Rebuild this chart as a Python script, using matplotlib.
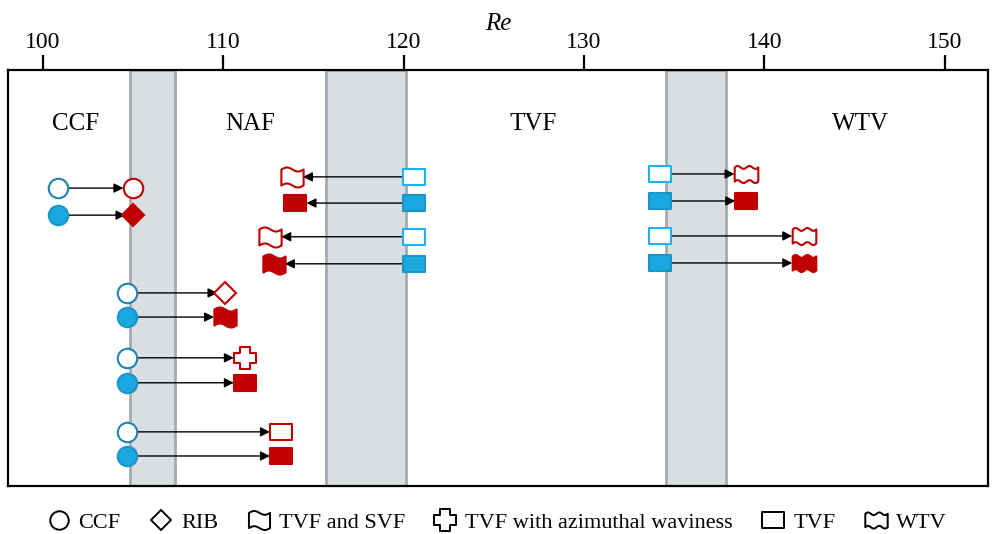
import matplotlib
matplotlib.use("Agg")
import matplotlib.pyplot as plt
import numpy as np
from matplotlib.path import Path
from matplotlib.lines import Line2D

plt.rcParams['font.family'] = ['Liberation Serif', 'DejaVu Serif']
plt.rcParams['mathtext.fontset'] = 'stix'

# --- Data ---
# transition bands in Re
bands = [(104.85, 107.3), (115.7, 120.15), (134.55, 137.85)]
zone_names = ['CCF', 'NAF', 'TVF', 'WTV']
zone_x = [101.8, 111.5, 127.2, 145.3]
zone_y = 8.7

# transitions: Re start, Re end, row, start/end state, filled or not
src_re = [100.85, 100.85, 104.65, 104.65, 104.65, 104.65, 104.65, 104.65,
          120.6, 120.6, 120.6, 120.6,
          134.2, 134.2, 134.2, 134.2]
dst_re = [105.0, 105.0, 110.1, 110.1, 111.2, 111.2, 113.2, 113.2,
          113.8, 114.0, 112.6, 112.8,
          139.0, 139.0, 142.2, 142.2]
rows = [7.16, 6.51, 4.64, 4.06, 3.08, 2.48, 1.30, 0.72,
        7.43, 6.80, 5.99, 5.34,
        7.50, 6.85, 6.01, 5.36]
src_kind = ['ccf'] * 8 + ['tvf'] * 8
dst_kind = ['ccf', 'rib', 'rib', 'flag', 'cross', 'tvf', 'tvf', 'tvf',
            'flag', 'tvf', 'flag', 'flag',
            'wtv', 'tvf', 'wtv', 'wtv']
filled = [False, True] * 8

legend_kinds = ['ccf', 'rib', 'flag', 'cross', 'tvf', 'wtv']
legend_labels = ['CCF', 'RIB', 'TVF and SVF', 'TVF with azimuthal waviness', 'TVF', 'WTV']

red = '#c00000'
blue_fill = '#1aa8e0'
blue_edge_circ = '#1f82b0'
blue_edge_sq = '#1ab2ef'


# --- Custom marker shapes ---
def wave_box(w, h, a, periods, n=60):
    xs = np.linspace(-w, w, n)
    top = h + a * np.sin(np.pi * periods * (xs + w) / w)
    bot = -h + a * np.sin(np.pi * periods * (xs + w) / w)
    verts = list(zip(xs, top)) + list(zip(xs[::-1], bot[::-1])) + [(xs[0], top[0])]
    codes = [Path.MOVETO] + [Path.LINETO] * (len(verts) - 2) + [Path.CLOSEPOLY]
    return Path(verts, codes)


def plus_shape(t=0.22):
    s = 0.5
    verts = [(-t, s), (t, s), (t, t), (s, t), (s, -t), (t, -t), (t, -s),
             (-t, -s), (-t, -t), (-s, -t), (-s, t), (-t, t), (-t, s)]
    codes = [Path.MOVETO] + [Path.LINETO] * 11 + [Path.CLOSEPOLY]
    return Path(verts, codes)


def rect_shape(w=0.5, h=0.36):
    verts = [(-w, -h), (w, -h), (w, h), (-w, h), (-w, -h)]
    codes = [Path.MOVETO] + [Path.LINETO] * 3 + [Path.CLOSEPOLY]
    return Path(verts, codes)


markers = {
    'ccf': ('o', 14),
    'rib': ('D', 11),
    'flag': (wave_box(0.5, 0.36, 0.09, 1), 16),
    'cross': (plus_shape(), 16),
    'tvf': (rect_shape(), 16),
    'wtv': (wave_box(0.5, 0.3, 0.06, 2), 17),
}

fig = plt.figure(figsize=(9.92, 5.34), dpi=100)
ax = fig.add_axes([0.008, 0.09, 0.988, 0.779])

for lo, hi in bands:
    ax.axvspan(lo, hi, facecolor='#d9dee1', edgecolor='#a3abb1', lw=2, zorder=0)

for name, x in zip(zone_names, zone_x):
    ax.text(x, zone_y, name, fontsize=18, ha='center', va='center')

for i in range(len(rows)):
    x0, x1, y = src_re[i], dst_re[i], rows[i]
    m_end, ms_end = markers[dst_kind[i]]
    ax.annotate('', xy=(x1, y), xytext=(x0, y),
                arrowprops=dict(arrowstyle='-|>', color='k', lw=1,
                                mutation_scale=14, shrinkA=0, shrinkB=ms_end / 2),
                zorder=2)
    # start state
    m0, ms0 = markers[src_kind[i]]
    if src_kind[i] == 'ccf':
        ec = blue_edge_circ
    else:
        ec = blue_edge_sq
    ax.plot(x0, y, marker=m0, ms=ms0, mew=1.5, mec=ec if not filled[i] else '#1a95c8',
            mfc=blue_fill if filled[i] else 'white', ls='none', zorder=3)
    # end state
    ax.plot(x1, y, marker=m_end, ms=ms_end, mew=1.5, mec=red,
            mfc=red if filled[i] else 'white', ls='none', zorder=3)

ax.set_xlim(98.06, 152.4)
ax.set_ylim(0, 10)
ax.xaxis.tick_top()
ax.xaxis.set_label_position('top')
ax.set_xticks([100, 110, 120, 130, 140, 150])
ax.tick_params(axis='x', labelsize=17, length=11, width=1.6, pad=1.5)
ax.set_yticks([])
ax.set_xlabel('Re', fontsize=18, style='italic', labelpad=1)
for sp in ax.spines.values():
    sp.set_linewidth(1.6)

handles = []
for k in legend_kinds:
    m, ms = markers[k]
    handles.append(Line2D([], [], marker=m, ms=ms * 0.95, mew=1.4, mec='k', mfc='none', ls='none'))
fig.legend(handles, legend_labels, loc='center', bbox_to_anchor=(0.5, 0.022), ncol=6,
           frameon=False, fontsize=16, handletextpad=0.3, columnspacing=1.22, handlelength=1.2)

fig.savefig('out.png', dpi=100)
